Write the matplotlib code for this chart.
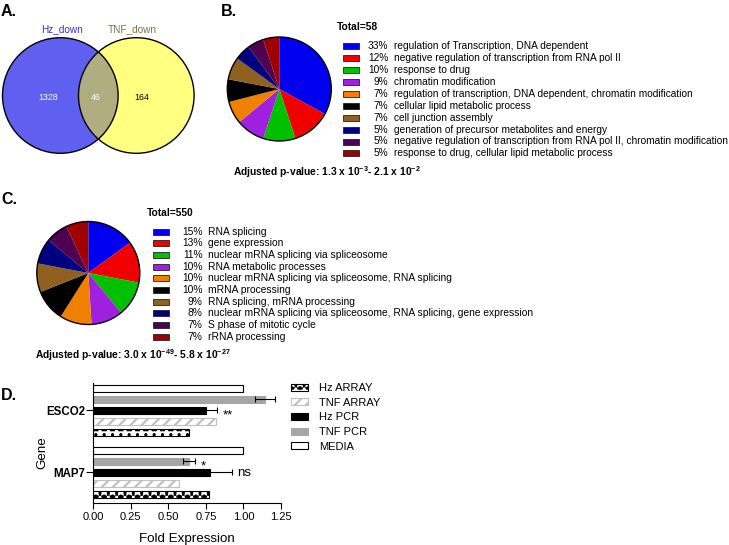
import numpy as np
import matplotlib
matplotlib.use("Agg")
import matplotlib.pyplot as plt
from matplotlib.patches import Circle, Rectangle, Patch
from matplotlib.legend_handler import HandlerTuple

plt.rcParams["font.family"] = ["Liberation Sans", "DejaVu Sans"]
plt.rcParams["mathtext.fontset"] = "custom"
plt.rcParams["mathtext.rm"] = "Liberation Sans"
plt.rcParams["mathtext.bf"] = "Liberation Sans:bold"
plt.rcParams["mathtext.default"] = "bf"
plt.rcParams["hatch.linewidth"] = 1.6

# --- A: Venn counts
venn_sets = ["Hz_down", "TNF_down"]
venn_counts = [1328, 46, 164]  # only Hz, both, only TNF

# --- B: GO terms, 58 genes
b_total = 58
b_pct = [33, 12, 10, 9, 7, 7, 7, 5, 5, 5]
b_terms = [
    "regulation of Transcription, DNA dependent",
    "negative regulation of transcription from RNA pol II",
    "response to drug",
    "chromatin modification",
    "regulation of transcription, DNA dependent, chromatin modification",
    "cellular lipid metabolic process",
    "cell junction assembly",
    "generation of precursor metabolites and energy",
    "negative regulation of transcription from RNA pol II, chromatin modification",
    "response to drug, cellular lipid metabolic process",
]
b_pval = r"Adjusted p-value: 1.3 x $10^{-3}$- 2.1 x $10^{-2}$"

# --- C: GO terms, 550 genes
c_total = 550
c_pct = [15, 13, 11, 10, 10, 10, 9, 8, 7, 7]
c_terms = [
    "RNA splicing",
    "gene expression",
    "nuclear mRNA splicing via spliceosome",
    "RNA metabolic processes",
    "nuclear mRNA splicing via spliceosome, RNA splicing",
    "mRNA processing",
    "RNA splicing, mRNA processing",
    "nuclear mRNA splicing via spliceosome, RNA splicing, gene expression",
    "S phase of mitotic cycle",
    "rRNA processing",
]
c_pval = r"Adjusted p-value: 3.0 x $10^{-49}$- 5.8 x $10^{-27}$"

pie_colors = ["#0000f0", "#f00000", "#00c000", "#a020e0", "#f08000",
              "#000000", "#906020", "#000080", "#500050", "#a00000"]

# --- D: fold expression
genes = ["ESCO2", "MAP7"]
hz_array = [0.64, 0.77]
tnf_array = [0.82, 0.57]
hz_pcr = [0.75, 0.78]
hz_pcr_err = [0.075, 0.145]
hz_pcr_sig = ["**", "ns"]
tnf_pcr = [1.145, 0.64]
tnf_pcr_err = [0.065, 0.04]
tnf_pcr_sig = ["", "*"]
media = [1.0, 1.0]

W, H = 729, 545
fig = plt.figure(figsize=(W / 100, H / 100), dpi=100)


def ax_px(x0, y0, w, h):
    return fig.add_axes([x0 / W, 1 - (y0 + h) / H, w / W, h / H])


def txt(x, y, s, **kw):
    kw.setdefault("va", "center")
    return fig.text(x / W, 1 - y / H, s, **kw)


# panel letters
for lab, (x, y) in zip(["A.", "B.", "C.", "D."],
                       [(1, 11), (221, 11), (1, 199), (1, 396)]):
    txt(x, y, lab, fontsize=11.5, fontweight="bold")

# ---------- A
ax = ax_px(0, 30, 200, 135)
ax.set_xlim(0, 200)
ax.set_ylim(165, 30)
ax.axis("off")
left = Circle((60.3, 95.5), 57.8, fc="#6060f0", ec="none")
right = Circle((136.3, 95.5), 57.8, fc="#ffff80", ec="none")
ax.add_patch(left)
ax.add_patch(right)
both = Circle((136.3, 95.5), 57.8, fc="#b0ae80", ec="none")
ax.add_patch(both)
both.set_clip_path(left)
for c in [(60.3, 95.5), (136.3, 95.5)]:
    ax.add_patch(Circle(c, 57.8, fc="none", ec="black", lw=1.0))
ax.text(62, 29, venn_sets[0], color="#3232c8", fontsize=7.2, ha="center", va="center")
ax.text(132, 29, venn_sets[1], color="#7a7040", fontsize=7.2, ha="center", va="center")
ax.text(48, 97, str(venn_counts[0]), color="white", fontsize=6.3, ha="center", va="center")
ax.text(96, 97, str(venn_counts[1]), color="white", fontsize=6.3, ha="center", va="center")
ax.text(142, 97, str(venn_counts[2]), color="black", fontsize=6.3, ha="center", va="center")


def draw_pie(cx, cy, r, pct, terms, total, pval, leg_x, leg_y0, step, pct_right,
             pval_xy, fs):
    a = ax_px(cx - r - 3, cy - r - 3, 2 * r + 6, 2 * r + 6)
    a.pie(pct, colors=pie_colors, startangle=90, counterclock=False,
          wedgeprops=dict(linewidth=0))
    lim = (r + 3) / r
    a.set_xlim(-lim, lim)
    a.set_ylim(-lim, lim)
    a.add_patch(Circle((0, 0), 1, fc="none", ec="black", lw=1.0))
    a.set_aspect("equal")
    txt(leg_x - 6, leg_y0 - 19, f"Total={total}", fontsize=7.4, fontweight="bold")
    for i, (p, t, col) in enumerate(zip(pct, terms, pie_colors)):
        y = leg_y0 + i * step
        fig.add_artist(Rectangle((leg_x / W, 1 - (y + 3) / H), 16 / W, 6 / H,
                                 transform=fig.transFigure, fc=col, ec="#202020", lw=0.6))
        txt(pct_right, y, f"{p}%", fontsize=fs, ha="right")
        txt(pct_right + 5, y, t, fontsize=fs, ha="left")
    txt(pval_xy[0], pval_xy[1], pval, fontsize=7.4, fontweight="bold")


draw_pie(279.3, 89, 52, b_pct, b_terms, b_total, b_pval,
         343, 46.3, 11.9, 388.5, (233, 172), 7.3)
draw_pie(88.3, 273, 51.5, c_pct, c_terms, c_total, c_pval,
         153, 231.7, 11.67, 202.5, (35, 355), 7.4)

# ---------- D
ax = ax_px(93.3, 383, 187.7, 120.3)
group_pos = np.array([0.0, 5.63])
bh = 0.66

ax.barh(group_pos + 2, hz_array, height=bh, color="black", edgecolor="white",
        hatch="**", linewidth=0)
ax.barh(group_pos + 2, hz_array, height=bh, fill=False, edgecolor="black", linewidth=0.8)
ax.barh(group_pos + 1, tnf_array, height=bh, color="white", edgecolor="#c0c0c0",
        hatch="///", linewidth=0.8)
ax.barh(group_pos, hz_pcr, height=bh, color="black", edgecolor="black", linewidth=0.8,
        xerr=hz_pcr_err, error_kw=dict(ecolor="black", elinewidth=0.8, capsize=2, capthick=0.8))
ax.barh(group_pos - 1, tnf_pcr, height=bh, color="#a6a6a6", edgecolor="#a6a6a6", linewidth=0.8,
        xerr=tnf_pcr_err, error_kw=dict(ecolor="black", elinewidth=0.8, capsize=2, capthick=0.8))
ax.barh(group_pos - 2, media, height=bh, color="white", edgecolor="black", linewidth=0.8)

for g, v, e, s in zip(group_pos, hz_pcr, hz_pcr_err, hz_pcr_sig):
    if s:
        ax.text(v + e + 0.035, g + (0.75 if "*" in s else 0.3), s, fontsize=9.5,
                ha="left", va="baseline")
for g, v, e, s in zip(group_pos - 1, tnf_pcr, tnf_pcr_err, tnf_pcr_sig):
    if s:
        ax.text(v + e + 0.035, g + (0.75 if "*" in s else 0.3), s, fontsize=9.5,
                ha="left", va="baseline")

ax.set_xlim(0, 1.25)
ax.set_ylim(8.42, -2.47)
ax.set_xticks([0, 0.25, 0.5, 0.75, 1.0, 1.25])
ax.set_xticklabels(["0.00", "0.25", "0.50", "0.75", "1.00", "1.25"])
ax.set_yticks(group_pos)
ax.set_yticklabels(genes, fontweight="bold", fontsize=8.3)
ax.tick_params(axis="x", length=4, width=0.8, labelsize=8, pad=2)
ax.tick_params(axis="y", length=5, width=0.8, pad=1)
for sp in ["top", "right"]:
    ax.spines[sp].set_visible(False)
for sp in ["left", "bottom"]:
    ax.spines[sp].set_linewidth(0.8)
ax.set_xlabel("Fold Expression", fontsize=9.6, labelpad=8)
ax.set_ylabel("Gene", fontsize=9.6)
ax.yaxis.set_label_coords((48 - 93.3) / 187.7, 0.42)

h_hz_array = (Patch(fc="black", ec="white", hatch="**", lw=0),
              Patch(fill=False, ec="black", lw=0.8))
h_tnf_array = Patch(fc="white", ec="#c0c0c0", hatch="///", lw=0.8)
h_hz_pcr = Patch(fc="black", ec="black", lw=0.8)
h_tnf_pcr = Patch(fc="#a6a6a6", ec="#a6a6a6", lw=0.8)
h_media = Patch(fc="white", ec="black", lw=0.8)
fig.legend([h_hz_array, h_tnf_array, h_hz_pcr, h_tnf_pcr, h_media],
           ["Hz ARRAY", "TNF ARRAY", "Hz PCR", "TNF PCR", "MEDIA"],
           handler_map={tuple: HandlerTuple(ndivide=1)},
           loc="upper left", bbox_to_anchor=(291 / W, 1 - 383 / H),
           frameon=False, fontsize=8, borderpad=0, borderaxespad=0,
           handlelength=1.55, handleheight=0.6, handletextpad=1.0,
           labelspacing=0.42)

fig.savefig("out.png", dpi=100)
